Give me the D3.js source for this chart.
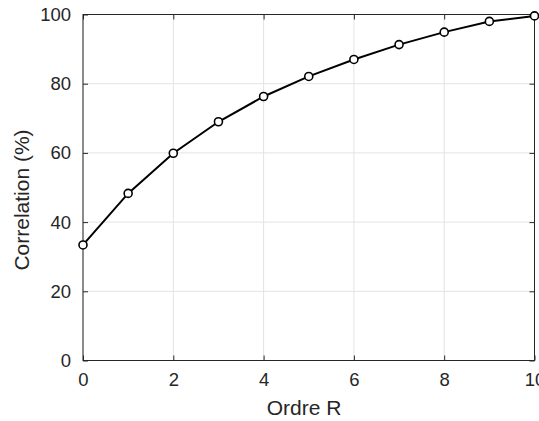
<!DOCTYPE html>
<html>
<head>
<meta charset="utf-8">
<script src="https://cdn.jsdelivr.net/npm/d3@7"></script>
<style>
  html, body { margin: 0; padding: 0; background: #fff; overflow: hidden; }
  svg { display: block; font-family: "Liberation Sans", Arial, sans-serif; }
</style>
</head>
<body>
<div id="wrapper"></div>
<script>
  /* DATA */
  const orders = [0, 1, 2, 3, 4, 5, 6, 7, 8, 9, 10];
  const correlation = [33.4, 48.3, 59.9, 69.0, 76.3, 82.1, 87.0, 91.3, 94.9, 98.0, 99.6];
  const xTicks = [0, 2, 4, 6, 8, 10];
  const yTicks = [0, 20, 40, 60, 80, 100];

  const dataset = orders.map((x, i) => ({ x, y: correlation[i] }));

  /* DIMENSIONS */
  const dimensions = {
    width: 539,
    height: 421,
    margin: { top: 14.5, right: 4.5, bottom: 60.5, left: 83 },
  };
  dimensions.boundedWidth = dimensions.width - dimensions.margin.left - dimensions.margin.right;
  dimensions.boundedHeight = dimensions.height - dimensions.margin.top - dimensions.margin.bottom;

  /* SCALES */
  const xScale = d3.scaleLinear().domain([0, 10]).range([0, dimensions.boundedWidth]);
  const yScale = d3.scaleLinear().domain([0, 100]).range([dimensions.boundedHeight, 0]);

  const svg = d3.select('#wrapper').append('svg')
    .attr('width', dimensions.width)
    .attr('height', dimensions.height);

  const bounds = svg.append('g')
    .attr('transform', `translate(${dimensions.margin.left},${dimensions.margin.top})`);

  const axisColor = '#262626';
  const tickFont = 18.5;
  const labelFont = 21;

  /* GRID */
  const grid = bounds.append('g').attr('stroke', '#e3e3e3').attr('stroke-width', 1);
  grid.selectAll('line.gx').data(xTicks).join('line')
    .attr('x1', d => xScale(d)).attr('x2', d => xScale(d))
    .attr('y1', 0).attr('y2', dimensions.boundedHeight);
  grid.selectAll('line.gy').data(yTicks).join('line')
    .attr('class', 'gy')
    .attr('y1', d => yScale(d)).attr('y2', d => yScale(d))
    .attr('x1', 0).attr('x2', dimensions.boundedWidth);

  /* AXES */
  const styleAxis = g => {
    g.select('.domain').remove();
    g.selectAll('.tick line').attr('stroke', axisColor);
    g.selectAll('.tick text').attr('fill', axisColor).attr('font-size', tickFont)
      .attr('font-family', '"Liberation Sans", Arial, sans-serif');
  };

  bounds.append('g')
    .attr('transform', `translate(0,${dimensions.boundedHeight})`)
    .call(d3.axisBottom(xScale).tickValues(xTicks).tickSizeInner(-5).tickSizeOuter(0).tickPadding(12.5))
    .call(styleAxis);
  bounds.append('g')
    .call(d3.axisTop(xScale).tickValues(xTicks).tickSizeInner(-5).tickSizeOuter(0).tickFormat(''))
    .call(styleAxis);
  bounds.append('g')
    .call(d3.axisLeft(yScale).tickValues(yTicks).tickSizeInner(-5).tickSizeOuter(0).tickPadding(12))
    .call(styleAxis);
  bounds.append('g')
    .attr('transform', `translate(${dimensions.boundedWidth},0)`)
    .call(d3.axisRight(yScale).tickValues(yTicks).tickSizeInner(-5).tickSizeOuter(0).tickFormat(''))
    .call(styleAxis);

  bounds.append('rect')
    .attr('width', dimensions.boundedWidth)
    .attr('height', dimensions.boundedHeight)
    .attr('fill', 'none')
    .attr('stroke', axisColor)
    .attr('stroke-width', 1);

  /* LINE */
  const lineGenerator = d3.line().x(d => xScale(d.x)).y(d => yScale(d.y));
  bounds.append('path')
    .attr('d', lineGenerator(dataset))
    .attr('fill', 'none')
    .attr('stroke', '#000')
    .attr('stroke-width', 2);

  bounds.append('g').selectAll('circle').data(dataset).join('circle')
    .attr('cx', d => xScale(d.x))
    .attr('cy', d => yScale(d.y))
    .attr('r', 4)
    .attr('fill', '#fff')
    .attr('stroke', '#000')
    .attr('stroke-width', 1.6);

  /* LABELS */
  svg.append('text')
    .text('Ordre R')
    .attr('x', 304)
    .attr('y', 415)
    .attr('text-anchor', 'middle')
    .attr('font-size', labelFont)
    .attr('fill', axisColor);

  svg.append('text')
    .text('Correlation (%)')
    .attr('text-anchor', 'middle')
    .attr('font-size', labelFont)
    .attr('fill', axisColor)
    .attr('transform', 'translate(28.5,200) rotate(-90)');
</script>
</body>
</html>
